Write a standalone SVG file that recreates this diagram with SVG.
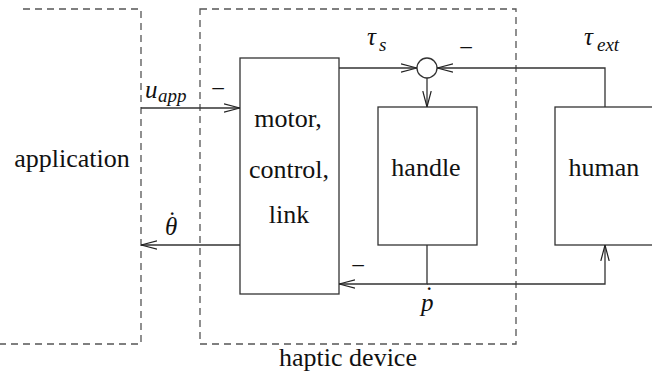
<svg xmlns="http://www.w3.org/2000/svg" width="652" height="381" viewBox="0 0 652 381">
<style>
.dash{fill:none;stroke:#555;stroke-width:1.3;stroke-dasharray:7,5}
.box{fill:#fff;stroke:#333;stroke-width:1.3}
.ln{fill:none;stroke:#333;stroke-width:1.3}
</style>
<defs>
<marker id="arr" viewBox="0 0 16 10" refX="16" refY="5" markerWidth="16" markerHeight="10" markerUnits="userSpaceOnUse" orient="auto">
<path d="M0,0.8 L16,5 L0,9.2" fill="none" stroke="#222" stroke-width="1.2"/>
</marker>
</defs>
<rect x="0" y="0" width="652" height="381" fill="#fff"/>
<g id="application">
<path class="dash" d="M23,9 H141 V344 H0"/>
<text font-family="Liberation Serif" font-size="26" fill="#111" x="72" y="167" text-anchor="middle">application</text>
</g>
<g id="haptic-device">
<rect class="dash" x="200" y="9" width="316" height="335"/>
<text font-family="Liberation Serif" font-size="26" fill="#111" x="348" y="366" text-anchor="middle">haptic device</text>
</g>
<g id="motor">
<rect class="box" x="240" y="58" width="99" height="236"/>
<text font-family="Liberation Serif" font-size="26" fill="#111" x="288" y="127" text-anchor="middle">motor,</text>
<text font-family="Liberation Serif" font-size="26" fill="#111" x="289" y="178" text-anchor="middle">control,</text>
<text font-family="Liberation Serif" font-size="26" fill="#111" x="289" y="223" text-anchor="middle">link</text>
</g>
<g id="handle">
<rect class="box" x="378" y="107" width="99" height="138"/>
<text font-family="Liberation Serif" font-size="26" fill="#111" x="426" y="176" text-anchor="middle">handle</text>
</g>
<g id="human">
<rect class="box" x="555" y="107" width="110" height="138"/>
<text font-family="Liberation Serif" font-size="26" fill="#111" x="604" y="176" text-anchor="middle">human</text>
</g>
<g id="sum">
<circle class="box" cx="427" cy="68" r="10"/>
</g>
<g id="connectors">
<g class="ln" marker-end="url(#arr)">
<path d="M141,108 H240"/>
<path d="M240,245 H141"/>
<path d="M339,68 H417"/>
<path d="M605,107 V68 H437"/>
<path d="M427,78 V107"/>
<path d="M427,245 V284 H339"/>
<path d="M427,284 H605 V245"/>
</g>
<text font-family="Liberation Serif" font-size="25" font-style="italic" fill="#111" x="145" y="98">u</text>
<text font-family="Liberation Serif" font-size="19" font-style="italic" fill="#111" x="158" y="102">app</text>
<text font-family="Liberation Serif" font-size="25" fill="#111" x="211" y="97">−</text>
<text font-family="Liberation Serif" font-size="25" font-style="italic" fill="#111" x="367" y="45">τ</text>
<text font-family="Liberation Serif" font-size="19" font-style="italic" fill="#111" x="379" y="51">s</text>
<text font-family="Liberation Serif" font-size="25" fill="#111" x="459" y="56">−</text>
<text font-family="Liberation Serif" font-size="25" font-style="italic" fill="#111" x="584" y="45">τ</text>
<text font-family="Liberation Serif" font-size="19" font-style="italic" fill="#111" x="597" y="51">ext</text>
<text font-family="Liberation Serif" font-size="25" font-style="italic" fill="#111" x="165" y="235">θ</text>
<text font-family="Liberation Serif" font-size="25" fill="#111" x="168" y="229">˙</text>
<text font-family="Liberation Serif" font-size="25" font-style="italic" fill="#111" x="421" y="311">p</text>
<text font-family="Liberation Serif" font-size="25" fill="#111" x="425" y="304">˙</text>
<text font-family="Liberation Serif" font-size="25" fill="#111" x="351" y="274">−</text>
</g>
</svg>
